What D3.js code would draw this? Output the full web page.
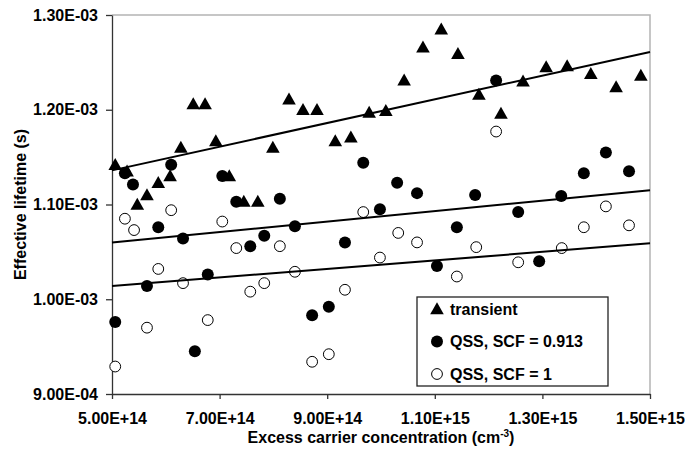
<!DOCTYPE html>
<html>
  <head>
    <title></title>
    <meta charset="UTF-8" />
    <script src="https://d3js.org/d3.v7.min.js"></script>
    <style>
      body { margin: 0; background: #fff; }
      text { font-family: Arial, "Liberation Sans", sans-serif; font-weight: bold; fill: #000; }
    </style>
  </head>
  <body>
    <svg width="685" height="457"></svg>
    <script>
      // data
      const transientX = [5.06e14, 5.28e14, 5.47e14, 5.65e14, 5.86e14, 6.08e14, 6.28e14, 6.51e14, 6.73e14, 6.93e14, 7.18e14, 7.45e14, 7.71e14, 7.99e14, 8.29e14, 8.55e14, 8.81e14, 9.15e14, 9.44e14, 9.78e14, 1.009e15, 1.043e15, 1.078e15, 1.112e15, 1.143e15, 1.182e15, 1.223e15, 1.264e15, 1.307e15, 1.346e15, 1.390e15, 1.437e15, 1.483e15]
      const transientY = [1.142e-3, 1.135e-3, 1.100e-3, 1.110e-3, 1.123e-3, 1.130e-3, 1.160e-3, 1.206e-3, 1.206e-3, 1.167e-3, 1.130e-3, 1.103e-3, 1.103e-3, 1.160e-3, 1.211e-3, 1.200e-3, 1.200e-3, 1.167e-3, 1.171e-3, 1.197e-3, 1.199e-3, 1.231e-3, 1.266e-3, 1.285e-3, 1.259e-3, 1.216e-3, 1.196e-3, 1.230e-3, 1.245e-3, 1.246e-3, 1.238e-3, 1.224e-3, 1.236e-3]

      const qss913X = [5.06e14, 5.24e14, 5.39e14, 5.65e14, 5.86e14, 6.10e14, 6.32e14, 6.54e14, 6.78e14, 7.05e14, 7.31e14, 7.57e14, 7.83e14, 8.12e14, 8.40e14, 8.72e14, 9.03e14, 9.33e14, 9.67e14, 9.98e14, 1.030e15, 1.067e15, 1.104e15, 1.141e15, 1.175e15, 1.214e15, 1.255e15, 1.294e15, 1.335e15, 1.377e15, 1.418e15, 1.461e15]
      const qss913Y = [9.76e-4, 1.133e-3, 1.121e-3, 1.014e-3, 1.076e-3, 1.142e-3, 1.064e-3, 9.45e-4, 1.026e-3, 1.130e-3, 1.103e-3, 1.056e-3, 1.067e-3, 1.106e-3, 1.077e-3, 9.83e-4, 9.92e-4, 1.060e-3, 1.144e-3, 1.095e-3, 1.123e-3, 1.112e-3, 1.035e-3, 1.076e-3, 1.110e-3, 1.231e-3, 1.092e-3, 1.040e-3, 1.109e-3, 1.133e-3, 1.155e-3, 1.135e-3]

      const qss1X = [5.06e14, 5.24e14, 5.41e14, 5.65e14, 5.86e14, 6.10e14, 6.32e14, 6.78e14, 7.05e14, 7.31e14, 7.57e14, 7.83e14, 8.12e14, 8.40e14, 8.72e14, 9.03e14, 9.33e14, 9.67e14, 9.98e14, 1.032e15, 1.067e15, 1.104e15, 1.141e15, 1.177e15, 1.214e15, 1.255e15, 1.294e15, 1.336e15, 1.377e15, 1.418e15, 1.461e15]
      const qss1Y = [9.29e-4, 1.085e-3, 1.073e-3, 9.70e-4, 1.032e-3, 1.094e-3, 1.017e-3, 9.78e-4, 1.082e-3, 1.054e-3, 1.008e-3, 1.017e-3, 1.056e-3, 1.029e-3, 9.34e-4, 9.42e-4, 1.010e-3, 1.092e-3, 1.044e-3, 1.070e-3, 1.060e-3, 9.89e-4, 1.024e-3, 1.055e-3, 1.177e-3, 1.039e-3, 9.94e-4, 1.054e-3, 1.076e-3, 1.098e-3, 1.078e-3]

      // trend lines, value at the two ends of the x axis
      const trendX = [5e14, 1.5e15]
      const trendTransient = [1.136e-3, 1.261e-3]
      const trendQss913 = [1.060e-3, 1.115e-3]
      const trendQss1 = [1.014e-3, 1.059e-3]

      const xTicks = [5e14, 7e14, 9e14, 1.1e15, 1.3e15, 1.5e15]
      const yTicks = [9e-4, 1e-3, 1.1e-3, 1.2e-3, 1.3e-3]
      const legendLabels = ["transient", "QSS, SCF = 0.913", "QSS, SCF = 1"]

      // 1. canvas
      const marge = { top: 15, bottom: 63, left: 112, right: 35 }
      const svg = d3.select("svg")
      const width = +svg.attr("width") - marge.left - marge.right
      const height = +svg.attr("height") - marge.top - marge.bottom
      const g = svg.append("g").attr("transform", "translate(" + marge.left + "," + marge.top + ")")

      // 2. scales
      const xScale = d3.scaleLinear().domain([5e14, 1.5e15]).range([0, width])
      const yScale = d3.scaleLinear().domain([9e-4, 1.3e-3]).range([height, 0])

      const sci = (d) => {
        const parts = d.toExponential(2).split("e")
        const e = parts[1]
        return parts[0] + "E" + e[0] + e.slice(1).padStart(2, "0")
      }

      // 3. plot border (top / right in grey)
      g.append("path")
        .attr("d", "M0,0H" + width + "V" + height)
        .attr("fill", "none")
        .attr("stroke", "#b4b4b4")
        .attr("stroke-width", 1.5)

      // 4. axes
      const xAxis = d3.axisBottom(xScale).tickValues(xTicks).tickFormat(sci).tickSize(5).tickSizeOuter(0).tickPadding(14)
      const gx = g.append("g").attr("transform", "translate(0," + height + ")").call(xAxis)
      gx.selectAll("text").style("font-size", "16px")
      gx.selectAll("line, path").attr("stroke", "#333").attr("stroke-width", 1.3)

      const yAxis = d3.axisLeft(yScale).tickValues(yTicks).tickFormat(sci).tickSize(6).tickSizeOuter(0).tickPadding(8)
      const gy = g.append("g").call(yAxis)
      gy.selectAll("text").style("font-size", "16px")
      gy.selectAll("line, path").attr("stroke", "#333").attr("stroke-width", 1.3)

      // axis titles
      const xTitle = svg.append("text")
        .attr("x", marge.left + width / 2)
        .attr("y", 443)
        .attr("text-anchor", "middle")
        .style("font-size", "16px")
      xTitle.append("tspan").text("Excess carrier concentration (cm")
      xTitle.append("tspan").attr("dy", -6).style("font-size", "10px").text("-3")
      xTitle.append("tspan").attr("dy", 6).text(")")

      svg.append("text")
        .attr("transform", "translate(26," + (marge.top + height / 2) + ") rotate(-90)")
        .attr("text-anchor", "middle")
        .style("font-size", "16px")
        .text("Effective lifetime (s)")

      // 5. markers
      const triangle = "M0,-6.8L6.8,5.2L-6.8,5.2Z"

      g.append("g")
        .selectAll("path")
        .data(transientX)
        .enter()
        .append("path")
        .attr("d", triangle)
        .attr("transform", (d, i) => "translate(" + xScale(d) + "," + yScale(transientY[i]) + ")")
        .attr("fill", "#000")

      g.append("g")
        .selectAll("circle")
        .data(qss913X)
        .enter()
        .append("circle")
        .attr("cx", (d) => xScale(d))
        .attr("cy", (d, i) => yScale(qss913Y[i]))
        .attr("r", 6)
        .attr("fill", "#000")

      g.append("g")
        .selectAll("circle")
        .data(qss1X)
        .enter()
        .append("circle")
        .attr("cx", (d) => xScale(d))
        .attr("cy", (d, i) => yScale(qss1Y[i]))
        .attr("r", 5.4)
        .attr("fill", "#fff")
        .attr("stroke", "#000")
        .attr("stroke-width", 1)

      // 6. trend lines
      const line = d3.line().x((d) => xScale(d[0])).y((d) => yScale(d[1]))
      ;[trendTransient, trendQss913, trendQss1].forEach((t) => {
        g.append("path")
          .attr("d", line(trendX.map((x, i) => [x, t[i]])))
          .attr("fill", "none")
          .attr("stroke", "#000")
          .attr("stroke-width", 2)
      })

      // 7. legend
      const lg = svg.append("g").attr("transform", "translate(417,297)")
      lg.append("rect")
        .attr("width", 191)
        .attr("height", 89)
        .attr("fill", "#fff")
        .attr("stroke", "#222")
        .attr("stroke-width", 1.3)
      const rows = lg.selectAll(".row")
        .data(legendLabels)
        .enter()
        .append("g")
        .attr("transform", (d, i) => "translate(20," + (12 + i * 32.5) + ")")
      rows.filter((d, i) => i === 0).append("path").attr("d", triangle).attr("fill", "#000")
      rows.filter((d, i) => i === 1).append("circle").attr("r", 6).attr("fill", "#000")
      rows.filter((d, i) => i === 2).append("circle").attr("r", 5.4).attr("fill", "#fff").attr("stroke", "#000")
      rows.append("text")
        .attr("x", 13)
        .attr("dy", "0.35em")
        .style("font-size", "16px")
        .text((d) => d)
    </script>
  </body>
</html>
